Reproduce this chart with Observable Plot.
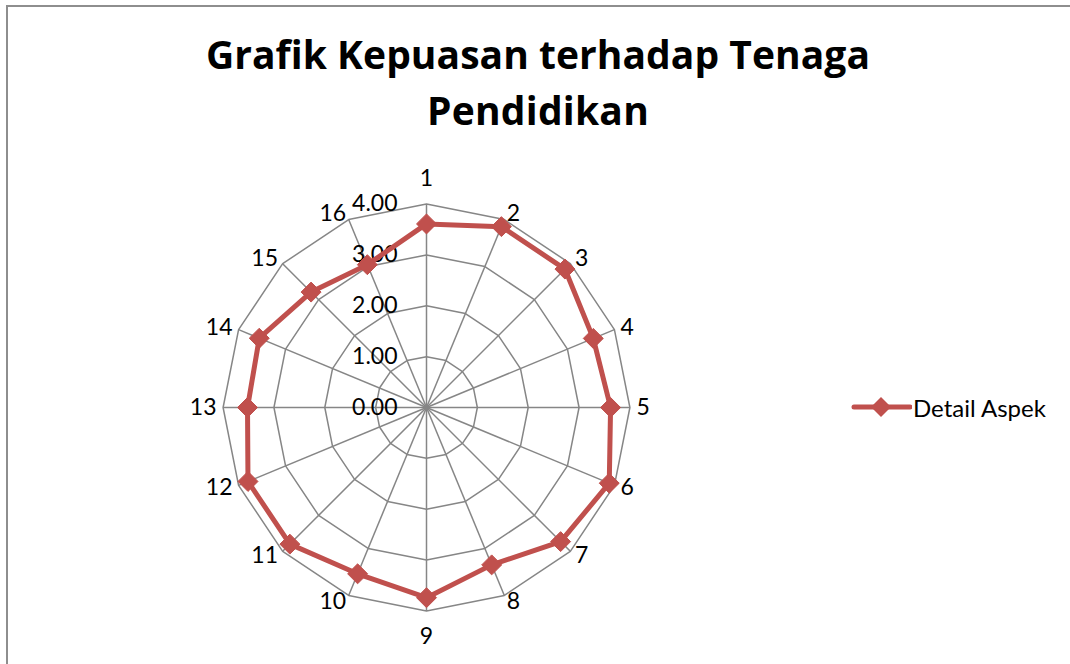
<!DOCTYPE html>
<html><head><meta charset="utf-8">
<script src="https://cdn.jsdelivr.net/npm/d3@7"></script>
<script src="https://cdn.jsdelivr.net/npm/@observablehq/plot@0.6"></script>
<style>
body{margin:0;background:#fff;}
#wrap{position:relative;width:1070px;height:664px;overflow:hidden;font-family:Lato,sans-serif;background:#fff;}
#frame{position:absolute;left:6px;top:5px;right:-10px;bottom:-10px;border-top:2px solid #8e8e8e;border-left:2px solid #8e8e8e;}
#title{position:absolute;left:6px;width:1064px;top:26px;text-align:center;font-family:"Open Sans",sans-serif;font-weight:700;font-size:39px;line-height:56px;color:#000;}
#chart{position:absolute;left:0;top:0;}
#legend{position:absolute;left:850px;top:392px;display:flex;align-items:center;font-size:24px;color:#000;}
</style></head>
<body>
<div id="wrap">
  <div id="frame"></div>
  <div id="chart"></div>
  <div id="title"><span id="t1">Grafik Kepuasan terhadap Tenaga</span><br><span id="t2">Pendidikan</span></div>
  <div id="legend"></div>
</div>
<script>
const categories = ["1","2","3","4","5","6","7","8","9","10","11","12","13","14","15","16"];
const values = [3.61, 3.85, 3.85, 3.55, 3.62, 3.89, 3.73, 3.35, 3.74, 3.54, 3.80, 3.80, 3.52, 3.56, 3.21, 3.04];
const ticks = [0, 1, 2, 3, 4];
const tickLabels = ["0.00", "1.00", "2.00", "3.00", "4.00"];
const seriesName = "Detail Aspek";

const W = 1070, H = 664;
const cx = 426, cy = 407, pxPerUnit = 50.85;
const maxV = 4;
const n = categories.length;
const ang = i => i * 2 * Math.PI / n;

const ringPts = [];
for (const t of ticks.filter(t => t > 0)) for (let i = 0; i < n; i++) ringPts.push({level: t, x: t * Math.sin(ang(i)), y: t * Math.cos(ang(i))});
const spokes = categories.map((c, i) => ({x2: maxV * Math.sin(ang(i)), y2: maxV * Math.cos(ang(i))}));
const series = values.map((v, i) => ({cat: categories[i], v, x: v * Math.sin(ang(i)), y: v * Math.cos(ang(i))}));
const catLabels = categories.map((c, i) => {
  const s = Math.sin(ang(i)), co = Math.cos(ang(i));
  const vertical = Math.abs(s) < 0.1;
  const r = vertical ? 4.5 : 4.13;
  return {c, x: r * s, y: r * co, anchor: vertical ? "middle" : (s > 0 ? "start" : "end")};
});
const tickData = ticks.map((t, i) => ({t, label: tickLabels[i]}));

const grid = "#868686";
const red = "#C0504D";

const plot = Plot.plot({
  width: W, height: H,
  marginTop: 0, marginBottom: 0, marginLeft: 0, marginRight: 0,
  x: {domain: [-cx / pxPerUnit, (W - cx) / pxPerUnit], range: [0, W], axis: null},
  y: {domain: [-(H - cy) / pxPerUnit, cy / pxPerUnit], range: [H, 0], axis: null},
  style: {fontFamily: "Lato, sans-serif", background: "transparent"},
  marks: [
    Plot.line(ringPts, {x: "x", y: "y", z: "level", curve: "linear-closed", stroke: grid, strokeWidth: 1.5}),
    Plot.link(spokes, {x1: 0, y1: 0, x2: "x2", y2: "y2", stroke: grid, strokeWidth: 1.5}),
    Plot.text(tickData, {x: 0, y: "t", text: "label", textAnchor: "end", dx: -29, fontSize: 23, fill: "#000"}),
    Plot.text(catLabels.filter(d => d.anchor === "start"), {x: "x", y: "y", text: "c", textAnchor: "start", fontSize: 23, fill: "#000"}),
    Plot.text(catLabels.filter(d => d.anchor === "end"), {x: "x", y: "y", text: "c", textAnchor: "end", fontSize: 23, fill: "#000"}),
    Plot.text(catLabels.filter(d => d.anchor === "middle"), {x: "x", y: "y", text: "c", textAnchor: "middle", fontSize: 23, fill: "#000"}),
    Plot.line(series, {x: "x", y: "y", curve: "linear-closed", stroke: red, strokeWidth: 5, strokeLinejoin: "round"}),
    Plot.dot(series, {x: "x", y: "y", symbol: "diamond2", r: 9, fill: red, stroke: red, strokeWidth: 1})
  ]
});
document.getElementById("chart").appendChild(plot);

// match the title lines to the reference's measured widths
function fitWidth(id, target) {
  const el = document.getElementById(id);
  const w = el.getBoundingClientRect().width;
  const len = el.textContent.length;
  el.style.letterSpacing = ((target - w) / len) + "px";
}
fitWidth("t1", 664);
fitWidth("t2", 222);

// legend
const leg = d3.select("#legend");
const ls = leg.append("svg").attr("width", 62).attr("height", 30);
ls.append("line").attr("x1", 4).attr("x2", 60).attr("y1", 15).attr("y2", 15).attr("stroke", red).attr("stroke-width", 5).attr("stroke-linecap", "round");
ls.append("path").attr("d", d3.symbol(d3.symbolDiamond2, 255)()).attr("transform", "translate(31,15)").attr("fill", red);
leg.append("span").style("margin-left", "1px").text(seriesName);
</script>
</body></html>
